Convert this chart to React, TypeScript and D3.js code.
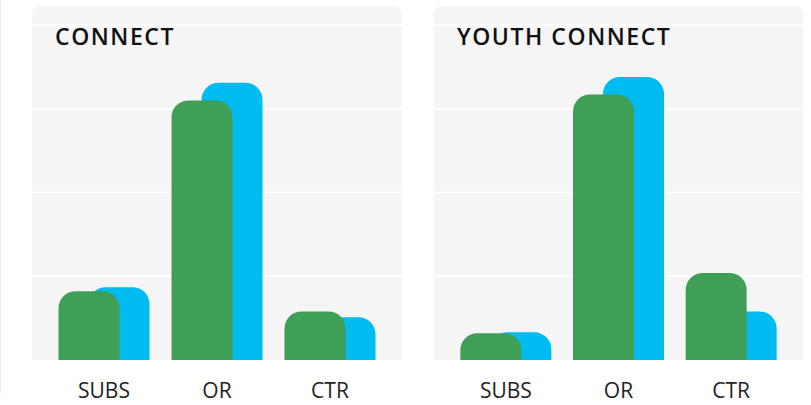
import React from 'react';
import * as d3 from 'd3';

const categories = ['SUBS', 'OR', 'CTR'];
const panelTitles = ['CONNECT', 'YOUTH CONNECT'];
const connectGreen = [0.82, 3.1, 0.58];
const connectBlue = [0.87, 3.31, 0.51];
const youthGreen = [0.32, 3.17, 1.04];
const youthBlue = [0.33, 3.38, 0.58];
const gridTicks = [1, 2, 3, 4];

const GREEN = '#409F56';
const BLUE = '#00BBF0';

const width = 811;
const height = 405;

// rect with only the top corners rounded
function topRounded(x: number, y: number, w: number, h: number, r: number) {
  const rr = Math.min(r, h, w / 2);
  const p = d3.path();
  p.moveTo(x, y + h);
  p.lineTo(x, y + rr);
  p.arcTo(x, y, x + rr, y, rr);
  p.lineTo(x + w - rr, y);
  p.arcTo(x + w, y, x + w, y + rr, rr);
  p.lineTo(x + w, y + h);
  p.closePath();
  return p.toString();
}

function Panel({ x0, w, title, green, blue }: { x0: number; w: number; title: string; green: number[]; blue: number[] }) {
  const top = 6;
  const base = 360;
  const y = d3.scaleLinear().domain([0, 4]).range([base, 25]);
  const xb = d3.scaleBand().domain(categories).range([x0 + 15.5, x0 + w - 15.5]);
  const barW = 61;
  const shift = 30;

  return (
    <g>
      <path d={topRounded(x0, top, w, base - top, 8)} fill="#f5f5f5" />
      {gridTicks.map(t => (
        <line key={t} x1={x0} x2={x0 + w} y1={y(t)} y2={y(t)} stroke="#ffffff" strokeWidth={2} />
      ))}
      <text
        x={x0 + 23}
        y={45}
        fontFamily="'Open Sans', sans-serif"
        fontWeight={600}
        fontSize={23}
        letterSpacing={1.55}
        fill="#111"
      >
        {title}
      </text>
      {categories.map((c, i) => {
        const cx = xb(c)! + xb.bandwidth() / 2;
        const gx = cx - (barW + shift) / 2;
        return (
          <g key={c}>
            <path d={topRounded(gx + shift, y(blue[i]), barW, base - y(blue[i]), 17)} fill={BLUE} />
            <path d={topRounded(gx, y(green[i]), barW, base - y(green[i]), 17)} fill={GREEN} />
            <text
              x={cx}
              y={398}
              textAnchor="middle"
              fontFamily="'Open Sans', sans-serif"
              fontSize={21}
              fill="#222"
            >
              {c}
            </text>
          </g>
        );
      })}
    </g>
  );
}

export default function App() {
  return (
    <svg
      width={width}
      height={height}
      style={{ position: 'absolute', left: 0, top: 0, background: '#fff' }}
    >
      <line x1={0.5} x2={0.5} y1={0} y2={393} stroke="#ececec" />
      <Panel x0={32} w={370} title={panelTitles[0]} green={connectGreen} blue={connectBlue} />
      <Panel x0={434} w={369} title={panelTitles[1]} green={youthGreen} blue={youthBlue} />
    </svg>
  );
}
